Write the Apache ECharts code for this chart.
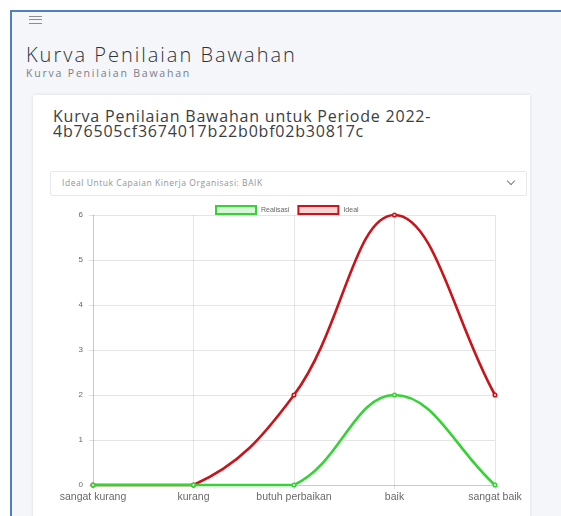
<!DOCTYPE html>
<html><head><meta charset="utf-8">
<script src="https://cdn.jsdelivr.net/npm/echarts@6/dist/echarts.min.js"></script>
<style>
html,body{margin:0;padding:0;width:561px;height:516px;overflow:hidden;background:#fff;font-family:"Open Sans",Lato,sans-serif;}
#frame{position:absolute;left:10px;top:10px;width:560px;height:520px;border-left:2px solid #4f7fbf;border-top:2px solid #4f7fbf;background:#f4f6f9;}
#burger{position:absolute;left:29px;top:16px;width:13px;height:6px;border-top:1px solid #8a8f96;border-bottom:1px solid #8a8f96;}
#burger:after{content:"";position:absolute;left:0;top:2px;width:13px;border-top:1px solid #8a8f96;}
#h1{position:absolute;left:26px;top:41px;font-size:20px;color:#2f3338;font-weight:300;letter-spacing:2px;white-space:nowrap;}
#sub{position:absolute;left:26px;top:66px;font-size:10.5px;color:#7a8088;white-space:nowrap;letter-spacing:1.8px;}
#card{position:absolute;left:33px;top:95px;width:497px;height:440px;background:#fff;box-shadow:0 0 3px rgba(0,0,0,0.12);}
#ct{position:absolute;left:53px;top:109px;font-size:16px;line-height:14.5px;color:#3a3e44;white-space:nowrap;letter-spacing:0.8px;}
#sel{position:absolute;left:50px;top:171px;width:475px;height:23px;border:1px solid #e6e8eb;border-radius:2px;background:#fff;}
#selt{position:absolute;left:11px;top:5px;font-size:8.5px;color:#8f959c;white-space:nowrap;letter-spacing:0.55px;}
#chev{position:absolute;right:12px;top:6px;width:5px;height:5px;border-right:1px solid #7a7f86;border-bottom:1px solid #7a7f86;transform:rotate(45deg);}
#chart{position:absolute;left:40px;top:196px;width:500px;height:315px;}
</style></head>
<body>
<div id="frame"></div>
<div id="burger"></div>
<div id="h1">Kurva Penilaian Bawahan</div>
<div id="sub">Kurva Penilaian Bawahan</div>
<div id="card"></div>
<div id="ct">Kurva Penilaian Bawahan untuk Periode 2022-<br>4b76505cf3674017b22b0bf02b30817c</div>
<div id="sel"><div id="selt">Ideal Untuk Capaian Kinerja Organisasi: BAIK</div><div id="chev"></div></div>
<div id="chart"></div>
<script>
const categories = ["sangat kurang","kurang","butuh perbaikan","baik","sangat baik"];
const realisasiValues = [0,0,0,2,0];
const idealValues = [0,0,2,6,2];
const yTicks = [0,1,2,3,4,5,6];
const seriesNames = ["Realisasi","Ideal"];

const GREEN = '#36d236', GREEN_FILL = '#d8f6d8';
const RED = '#c8141a', RED_FILL = '#f7d3d3';
const TENSION = 0.4;

function makeRender(vals, color, fill) {
  return function (params, api) {
    const i = params.dataIndex;
    const n = vals.length;
    const cs = params.coordSys;
    const top = cs.y, bottom = cs.y + cs.height, left = cs.x, right = cs.x + cs.width;
    const P = j => api.coord([j, vals[j]]);
    function cps(j) {
      const cur = P(j);
      const prev = j > 0 ? P(j - 1) : cur;
      const next = j < n - 1 ? P(j + 1) : cur;
      const d01 = Math.hypot(cur[0] - prev[0], cur[1] - prev[1]);
      const d12 = Math.hypot(next[0] - cur[0], next[1] - cur[1]);
      let s01 = d01 / (d01 + d12), s12 = d12 / (d01 + d12);
      if (!isFinite(s01)) s01 = 0;
      if (!isFinite(s12)) s12 = 0;
      const fa = TENSION * s01, fb = TENSION * s12;
      const clampX = v => Math.max(left, Math.min(right, v));
      const clampY = v => Math.max(top, Math.min(bottom, v));
      return {
        prev: [clampX(cur[0] - fa * (next[0] - prev[0])), clampY(cur[1] - fa * (next[1] - prev[1]))],
        next: [clampX(cur[0] + fb * (next[0] - prev[0])), clampY(cur[1] + fb * (next[1] - prev[1]))]
      };
    }
    const children = [];
    if (i < n - 1) {
      const a = P(i), b = P(i + 1);
      const ca = cps(i), cb = cps(i + 1);
      children.push({
        type: 'bezierCurve',
        shape: {x1: a[0], y1: a[1], cpx1: ca.next[0], cpy1: ca.next[1], cpx2: cb.prev[0], cpy2: cb.prev[1], x2: b[0], y2: b[1]},
        style: {stroke: color, lineWidth: 2.6, fill: null},
        z2: 1
      });
    }
    const p = P(i);
    children.push({
      type: 'circle', shape: {cx: p[0], cy: p[1], r: 1.8},
      style: {fill: fill, stroke: color, lineWidth: 1.5}, z2: 5
    });
    return {type: 'group', children: children};
  };
}

const chart = echarts.init(document.getElementById('chart'), null, {renderer:'canvas'});
chart.setOption({
  animation:false,
  legend:{
    data:[
      {name: seriesNames[0], icon:'rect', itemStyle:{color: GREEN_FILL, borderColor: GREEN, borderWidth: 2}},
      {name: seriesNames[1], icon:'rect', itemStyle:{color: RED_FILL, borderColor: RED, borderWidth: 2}}
    ],
    left:170, top:4, itemWidth:40, itemHeight:8, itemGap:8,
    textStyle:{fontSize:7, color:'#666'}
  },
  grid:{left:53, right:45, top:19, height:270},
  xAxis:{
    type:'category', data:categories, boundaryGap:false,
    axisLine:{show:true, lineStyle:{color:'rgba(0,0,0,0.12)'}},
    axisTick:{show:true, length:4, interval:0, lineStyle:{color:'rgba(0,0,0,0.12)'}},
    splitLine:{show:true, interval:0, lineStyle:{color:'rgba(0,0,0,0.1)'}},
    axisLabel:{fontSize:10.5, color:'#6a6a6a', margin:7, interval:0, hideOverlap:false}
  },
  yAxis:{
    type:'value', min:yTicks[0], max:yTicks[yTicks.length-1], interval:1,
    axisLine:{show:true, lineStyle:{color:'rgba(0,0,0,0.12)'}},
    axisTick:{show:true, length:4, lineStyle:{color:'rgba(0,0,0,0.12)'}},
    splitLine:{show:true, lineStyle:{color:'rgba(0,0,0,0.1)'}},
    axisLabel:{fontSize:8, color:'#666', margin:10}
  },
  series:[
    {name:seriesNames[1], type:'custom', clip:false, z:2,
     data: idealValues.map((v, i) => [i, v]), encode:{x:0, y:1},
     itemStyle:{color: RED_FILL, borderColor: RED, borderWidth: 2},
     renderItem: makeRender(idealValues, RED, RED_FILL)},
    {name:seriesNames[0], type:'custom', clip:false, z:3,
     data: realisasiValues.map((v, i) => [i, v]), encode:{x:0, y:1},
     itemStyle:{color: GREEN_FILL, borderColor: GREEN, borderWidth: 2},
     renderItem: makeRender(realisasiValues, GREEN, GREEN_FILL)}
  ]
});
</script>
</body></html>
